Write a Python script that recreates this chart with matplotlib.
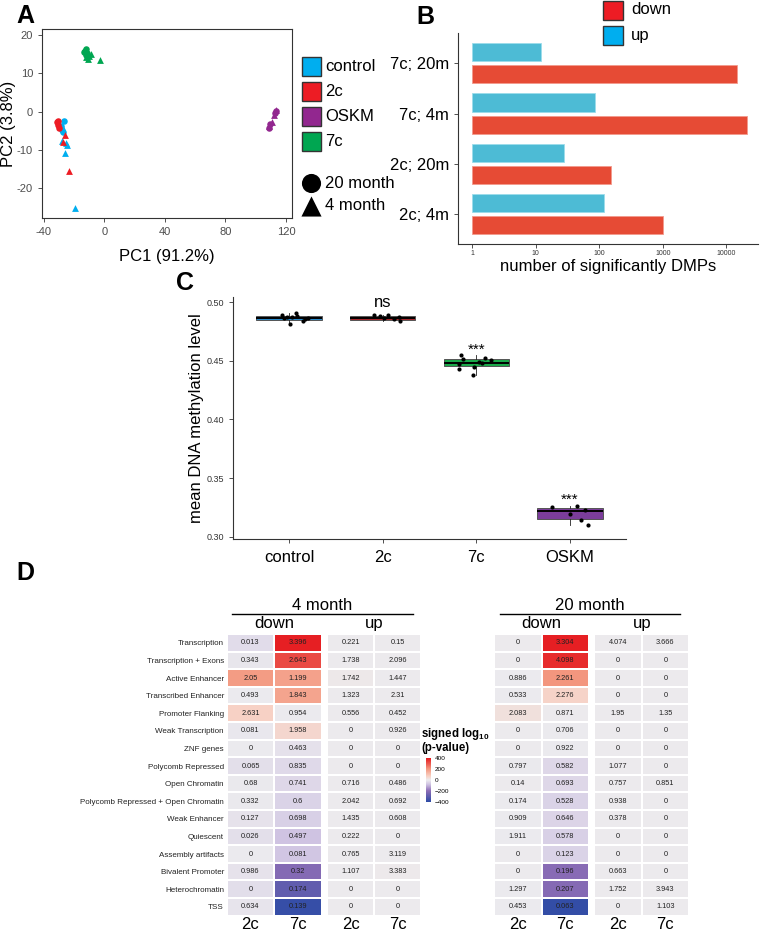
import numpy as np
import matplotlib
matplotlib.use('Agg')
import matplotlib.pyplot as plt
from matplotlib.colors import LinearSegmentedColormap, Normalize
from matplotlib.patches import Rectangle
from matplotlib.cm import ScalarMappable

plt.rcParams['font.family'] = ['Liberation Sans', 'DejaVu Sans']
plt.rcParams['mathtext.fontset'] = 'custom'
plt.rcParams['mathtext.rm'] = 'Liberation Sans'
plt.rcParams['mathtext.bf'] = 'Liberation Sans:bold'
plt.rcParams['axes.unicode_minus'] = False

#
#   DATA
#

# A - PCA, one list per group (control, 2c, OSKM, 7c)
group_names = ['control', '2c', 'OSKM', '7c']
group_colors = ['#00AEEF', '#ED1C24', '#92278F', '#00A651']
pc1_20m = [[-26.8, -28.5, -27.4, -28.0, -29.0],
           [-30.7, -30.5, -30.3, -31.2],
           [108.5, 109.5, 112.5, 113.2],
           [-13.5, -12.0, -12.5, -13.0, -11.8]]
pc2_20m = [[-2.5, -4.4, -5.2, -4.8, -3.8],
           [-2.4, -3.5, -4.4, -2.8],
           [-4.3, -3.2, -0.4, 0.1],
           [15.5, 16.3, 14.8, 15.8, 15.3]]
pc1_4m = [[-28.1, -25.2, -24.6, -26.3, -19.3],
          [-26.3, -27.4, -23.5],
          [109.0, 110.5, 112.0, 113.5],
          [-9.0, -11.0, -12.0, -3.2, -10.5]]
pc2_4m = [[-7.6, -8.3, -8.6, -10.9, -25.1],
          [-6.1, -7.9, -15.4],
          [-3.8, -2.8, -0.8, 0.3],
          [15.1, 13.8, 14.2, 13.5, 14.5]]

# B - number of DMPs
dmp_labels = ['2c; 4m', '2c; 20m', '7c; 4m', '7c; 20m']
dmp_up = [118, 28, 87, 12]
dmp_down = [1000, 151, 21600, 14900]

# C - mean methylation
meth_groups = ['control', '2c', '7c', 'OSKM']
meth_colors = ['#2A8BCB', '#A8262C', '#1BA84A', '#7B3D9B']
meth_q1 = [0.4849, 0.4853, 0.4456, 0.3147]
meth_med = [0.4866, 0.4868, 0.4485, 0.3216]
meth_q3 = [0.4883, 0.4885, 0.4513, 0.3244]
meth_lo = [0.4815, 0.4838, 0.4380, 0.3103]
meth_hi = [0.4911, 0.4890, 0.4547, 0.3262]
meth_points = [[0.4891, 0.4862, 0.4877, 0.4877, 0.4911, 0.4815, 0.4840, 0.4855, 0.4863, 0.4883],
               [0.4890, 0.4885, 0.4888, 0.4855, 0.4875, 0.4838, 0.4870],
               [0.4547, 0.4513, 0.4471, 0.4431, 0.4380, 0.4450, 0.4487, 0.4478, 0.4527, 0.4507],
               [0.3253, 0.3197, 0.3262, 0.3231, 0.3139, 0.3103]]
meth_jitter = [[-0.08, -0.06, -0.02, 0.03, 0.07, 0.01, 0.15, 0.17, 0.20, 0.08],
               [-0.09, -0.03, 0.06, 0.12, 0.17, 0.18, 0.01],
               [-0.16, -0.14, -0.18, -0.18, -0.04, -0.02, 0.03, 0.06, 0.09, 0.16],
               [-0.19, 0.0, 0.08, 0.16, 0.12, 0.19]]
meth_signif = ['', 'ns', '***', '***']

# D - chromatin state enrichment
states = ['Transcription', 'Transcription + Exons', 'Active Enhancer',
          'Transcribed Enhancer', 'Promoter Flanking', 'Weak Transcription',
          'ZNF genes', 'Polycomb Repressed', 'Open Chromatin',
          'Polycomb Repressed + Open Chromatin', 'Weak Enhancer', 'Quiescent',
          'Assembly artifacts', 'Bivalent Promoter', 'Heterochromatin', 'TSS']

# odds ratios (cell text)
or4_down_2c = [0.013, 0.343, 2.05, 0.493, 2.631, 0.081, 0, 0.065, 0.68, 0.332, 0.127, 0.026, 0, 0.986, 0, 0.634]
or4_down_7c = [3.396, 2.643, 1.199, 1.843, 0.954, 1.958, 0.463, 0.835, 0.741, 0.6, 0.698, 0.497, 0.081, 0.32, 0.174, 0.139]
or4_up_2c = [0.221, 1.738, 1.742, 1.323, 0.556, 0, 0, 0, 0.716, 2.042, 1.435, 0.222, 0.765, 1.107, 0, 0]
or4_up_7c = [0.15, 2.096, 1.447, 2.31, 0.452, 0.926, 0, 0, 0.486, 0.692, 0.608, 0, 3.119, 3.383, 0, 0]
or20_down_2c = [0, 0, 0.886, 0.533, 2.083, 0, 0, 0.797, 0.14, 0.174, 0.909, 1.911, 0, 0, 1.297, 0.453]
or20_down_7c = [3.304, 4.098, 2.261, 2.276, 0.871, 0.706, 0.922, 0.582, 0.693, 0.528, 0.646, 0.578, 0.123, 0.196, 0.207, 0.063]
or20_up_2c = [4.074, 0, 0, 0, 1.95, 0, 0, 1.077, 0.757, 0.938, 0.378, 0, 0, 0.663, 1.752, 0]
or20_up_7c = [3.666, 0, 0, 0, 1.35, 0, 0, 0, 0.851, 0, 0, 0, 0, 0, 3.943, 1.103]

# signed log10 p-values (cell colour)
lp4_down_2c = [-30, -12, 190, -3, 70, -8, -2, -25, -5, -6, -18, -22, -2, -16, -28, -14]
lp4_down_7c = [390, 320, 175, 170, -3, 55, -20, -35, -40, -50, -55, -80, -75, -215, -290, -380]
lp4_up_2c = [0, 0, 8, 0, 0, 0, 0, 0, 0, 0, 0, 0, 0, 0, 0, 0]
lp4_up_7c = [0, 0, 0, 0, 0, 0, 0, 0, 0, 0, 0, 0, 0, 5, 0, 0]
lp20_down_2c = [0, 0, -2, -2, 30, 0, 0, -4, 0, -3, -3, -3, 0, 0, -3, -3]
lp20_down_7c = [390, 370, 200, 65, 0, -3, -3, -40, -40, -50, -45, -55, -50, -205, -210, -385]
lp20_up_2c = [0] * 16
lp20_up_7c = [0] * 16

#
#   FIGURE (pixel layout helpers)
#

W, H = 761, 932
fig = plt.figure(figsize=(W / 100, H / 100), dpi=100)


def px_axes(left, top, right, bottom):
    return fig.add_axes([left / W, 1 - bottom / H, (right - left) / W, (bottom - top) / H])


def style_spines(ax, which=('left', 'bottom')):
    for side in ax.spines:
        ax.spines[side].set_visible(side in which)
        ax.spines[side].set_color('#333333')
        ax.spines[side].set_linewidth(0.8)


#
#   A - PCA
#

axA = px_axes(42, 29, 292, 218)
for i in range(len(group_names)):
    axA.scatter(pc1_20m[i], pc2_20m[i], marker='o', s=22, color=group_colors[i], lw=0)
    axA.scatter(pc1_4m[i], pc2_4m[i], marker='^', s=24, color=group_colors[i], lw=0)
axA.set_xlim(-41.3, 124)
axA.set_ylim(-27.8, 21.6)
axA.set_xticks([-40, 0, 40, 80, 120])
axA.set_yticks([-20, -10, 0, 10, 20])
axA.tick_params(labelsize=8, labelcolor='#4D4D4D', length=3, width=0.6, color='#333333')
style_spines(axA, ('left', 'bottom', 'top', 'right'))
axA.set_xlabel('PC1 (91.2%)', fontsize=12)
axA.set_ylabel('PC2 (3.8%)', fontsize=12)
axA.xaxis.set_label_coords(0.5, -(257 - 218) / 189)
axA.xaxis.label.set_va('center')
axA.yaxis.set_label_coords(-(42 - 9) / 250, 0.5)
axA.yaxis.label.set_va('center')

#
#   B - DMP counts
#

axB = px_axes(458, 33, 758, 244)
ypos = np.arange(len(dmp_labels))
axB.barh(ypos + 0.22, np.array(dmp_up) - 1, left=1, height=0.36,
         color='#4DBBD5', edgecolor='#9CDCEB', lw=0.6)
axB.barh(ypos - 0.22, np.array(dmp_down) - 1, left=1, height=0.36,
         color='#E64B35', edgecolor='#F29A8C', lw=0.6)
axB.set_xscale('log')
axB.set_xlim(10 ** -0.225, 10 ** 4.5)
axB.set_ylim(-0.59, 3.6)
axB.set_xticks([1, 10, 100, 1000, 10000], ['1', '10', '100', '1000', '10000'])
axB.xaxis.set_minor_locator(matplotlib.ticker.NullLocator())
axB.set_yticks(ypos, dmp_labels)
axB.tick_params(axis='x', labelsize=5, length=3, width=0.6, color='#333333',
                labelcolor='#333333', pad=1.5)
axB.tick_params(axis='y', labelsize=12, length=3, width=0.6, color='#333333')
style_spines(axB)
axB.set_xlabel('number of significantly DMPs', fontsize=12)
axB.xaxis.set_label_coords(0.5, -(267 - 244) / 211)
axB.xaxis.label.set_va('center')

#
#   C - mean methylation boxplots
#

axC = px_axes(233, 297, 626, 539)
stats = []
for k in range(len(meth_groups)):
    stats.append(dict(med=meth_med[k], q1=meth_q1[k], q3=meth_q3[k],
                      whislo=meth_lo[k], whishi=meth_hi[k], fliers=[]))
bp = axC.bxp(stats, positions=range(len(meth_groups)), widths=0.7, patch_artist=True,
             showcaps=False,
             medianprops=dict(color='black', lw=1.4),
             whiskerprops=dict(color='#222222', lw=0.6),
             boxprops=dict(edgecolor='#555555', lw=0.7))
for patch, c in zip(bp['boxes'], meth_colors):
    patch.set_facecolor(c)
for k in range(len(meth_groups)):
    axC.scatter(k + np.array(meth_jitter[k]), meth_points[k], s=9, color='black', zorder=3, lw=0)
    if meth_signif[k]:
        top = meth_hi[k] + (0.011 if meth_signif[k] == 'ns' else 0.005)
        axC.text(k, top, meth_signif[k], ha='center', va='center',
                 fontsize=12 if meth_signif[k] == 'ns' else 11)
axC.set_xlim(-0.6, 3.6)
axC.set_ylim(0.298, 0.5045)
axC.set_yticks([0.30, 0.35, 0.40, 0.45, 0.50], ['0.30', '0.35', '0.40', '0.45', '0.50'])
axC.set_xticks(range(len(meth_groups)), meth_groups)
axC.tick_params(axis='y', labelsize=6.5, length=3, width=0.6, color='#333333', labelcolor='#333333')
axC.tick_params(axis='x', labelsize=12, length=3, width=0.6, color='#333333', pad=5)
style_spines(axC)
axC.set_ylabel('mean DNA methylation level', fontsize=12)
axC.yaxis.set_label_coords(-(233 - 197) / 393, 0.5)
axC.yaxis.label.set_va('center')

#
#   D - chromatin state heatmaps
#

cmap = LinearSegmentedColormap.from_list('slp', [
    (0.0, '#2D4BA5'), (0.25, '#8B6CB5'), (0.40, '#CFC3E2'), (0.5, '#ECEBEE'),
    (0.6, '#F8CDBF'), (0.75, '#F3977F'), (1.0, '#E5191E')])
norm = Normalize(-400, 400)


def draw_tiles(ax, col_a, col_b, txt_a, txt_b, row_labels=None):
    C = np.array([col_a, col_b]).T
    ax.pcolormesh(C, cmap=cmap, norm=norm, edgecolors='white', linewidth=1.3)
    ax.set_xlim(0, 2)
    ax.set_ylim(len(states), 0)
    for i in range(len(states)):
        for j, vals in enumerate((txt_a, txt_b)):
            ax.text(j + 0.5, i + 0.5, '{:g}'.format(vals[i]), ha='center', va='center',
                    fontsize=5.3, color='#222222')
    ax.set_xticks([0.5, 1.5], ['2c', '7c'])
    ax.tick_params(axis='x', labelsize=12, length=0, pad=1)
    if row_labels:
        ax.set_yticks(np.arange(len(states)) + 0.5, row_labels)
        ax.tick_params(axis='y', labelsize=5.8, length=0, pad=2, labelcolor='#222222')
    else:
        ax.set_yticks([])
    for s in ax.spines.values():
        s.set_visible(False)


axD1 = px_axes(226.7, 634, 321.7, 915.7)
draw_tiles(axD1, lp4_down_2c, lp4_down_7c, or4_down_2c, or4_down_7c, states)
axD2 = px_axes(327, 634, 421.5, 915.7)
draw_tiles(axD2, lp4_up_2c, lp4_up_7c, or4_up_2c, or4_up_7c)
axD3 = px_axes(494, 634, 589, 915.7)
draw_tiles(axD3, lp20_down_2c, lp20_down_7c, or20_down_2c, or20_down_7c)
axD4 = px_axes(594.3, 634, 689, 915.7)
draw_tiles(axD4, lp20_up_2c, lp20_up_7c, or20_up_2c, or20_up_7c)

cax = px_axes(426, 758, 431, 802)
cb = fig.colorbar(ScalarMappable(norm=norm, cmap=cmap), cax=cax, ticks=[-400, -200, 0, 200, 400])
cb.outline.set_visible(False)
cb.ax.tick_params(labelsize=4.6, length=1.5, width=0.5, color='white', pad=1)
cb.ax.set_yticklabels(['\u2212400', '\u2212200', '0', '200', '400'])

#
#   OVERLAY: panel letters, legends, facet headers
#

ov = fig.add_axes([0, 0, 1, 1])
ov.set_xlim(0, W)
ov.set_ylim(H, 0)
ov.axis('off')

for letter, x, y in (('A', 25, 16), ('B', 425, 17), ('C', 185, 283), ('D', 25, 573)):
    ov.text(x, y, letter, fontsize=18, fontweight='bold', ha='center', va='center')

# A legend
for i, (name, c) in enumerate(zip(group_names, group_colors)):
    y0 = 57 + i * 25
    ov.add_patch(Rectangle((302, y0), 19, 19, facecolor=c, edgecolor='#333333', lw=1))
    ov.text(325, y0 + 9.5, name, fontsize=12, va='center')
ov.scatter([311], [183], marker='o', s=190, color='black', lw=0)
ov.scatter([311], [206], marker='^', s=210, color='black', lw=0)
ov.text(325, 183, '20 month', fontsize=12, va='center')
ov.text(325, 206, '4 month', fontsize=12, va='center')

# B legend
for i, (name, c) in enumerate((('down', '#ED1C24'), ('up', '#00AEEF'))):
    y0 = 0.5 + i * 25.5
    ov.add_patch(Rectangle((603, y0), 20, 19, facecolor=c, edgecolor='#333333', lw=1))
    ov.text(631, y0 + 9.5, name, fontsize=12, va='center')

# D headers
for title, x0, x1, dn, up in (('4 month', 232, 413, 274.2, 374.2),
                              ('20 month', 500, 680, 541.5, 641.7)):
    ov.text((x0 + x1) / 2, 605, title, fontsize=12, ha='center', va='center')
    ov.plot([x0, x1], [613.5, 613.5], color='black', lw=1)
    ov.text(dn, 623.5, 'down', fontsize=12, ha='center', va='center')
    ov.text(up, 623.5, 'up', fontsize=12, ha='center', va='center')

ov.text(421, 733.5, r'signed log$_{\mathbf{10}}$', fontsize=8.3, fontweight='bold', va='center')
ov.text(421, 748, '(p-value)', fontsize=8.3, fontweight='bold', va='center')

fig.savefig('out.png', dpi=100)
